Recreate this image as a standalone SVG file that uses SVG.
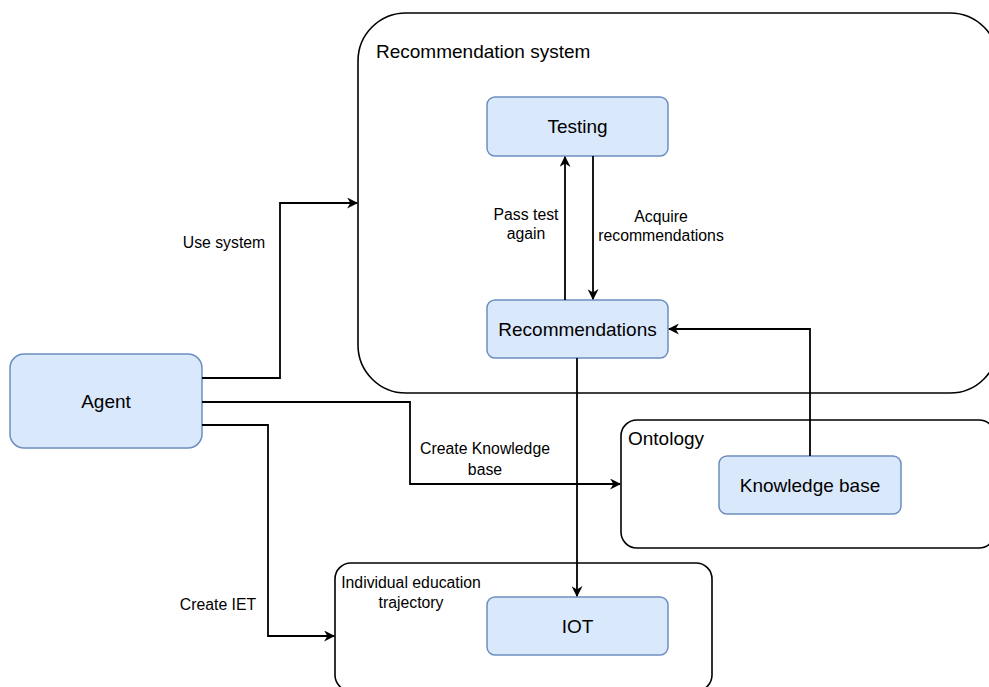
<svg xmlns="http://www.w3.org/2000/svg" width="989" height="687" viewBox="0 0 989 687">
<style>
.node{fill:#dae8fc;stroke:#6c8ebf;stroke-width:1.5}
.cont{fill:none;stroke:#000;stroke-width:1.6}
.lbl{font-family:"Liberation Sans",Arial,sans-serif;font-size:19px;fill:#000}
.small{font-family:"Liberation Sans",Arial,sans-serif;font-size:15.8px;fill:#000}
.edge{fill:none;stroke:#000;stroke-width:1.8}
</style>
<defs>
<marker id="arr" viewBox="0 0 10 10" refX="9" refY="5" markerWidth="11" markerHeight="11" markerUnits="userSpaceOnUse" orient="auto">
<path d="M0,0 L10,5 L0,10 L3,5 z" fill="#000"/>
</marker>
</defs>
<rect width="989" height="687" fill="#fff"/>
<g id="recsys">
<rect class="cont" x="358" y="13" width="640" height="380" rx="48" ry="48"/>
<text class="lbl" x="376" y="58">Recommendation system</text>
</g>
<g id="ontology">
<rect class="cont" x="621" y="420" width="374" height="128" rx="16" ry="16"/>
<text class="lbl" x="628" y="445">Ontology</text>
</g>
<g id="iet">
<rect class="cont" x="335" y="563" width="377" height="128" rx="16" ry="16"/>
<text class="small" x="411" y="588" text-anchor="middle">Individual education</text>
<text class="small" x="411" y="608" text-anchor="middle">trajectory</text>
</g>
<g id="testing">
<rect class="node" x="487" y="97" width="181" height="59" rx="8"/>
<text class="lbl" x="577.5" y="133" text-anchor="middle">Testing</text>
</g>
<g id="recommendations">
<rect class="node" x="487" y="300" width="181" height="58" rx="8"/>
<text class="lbl" x="577.5" y="336" text-anchor="middle">Recommendations</text>
</g>
<g id="agent">
<rect class="node" x="10" y="354" width="192" height="94" rx="14"/>
<text class="lbl" x="106" y="408" text-anchor="middle">Agent</text>
</g>
<g id="knowledge">
<rect class="node" x="719" y="456" width="182" height="58" rx="8"/>
<text class="lbl" x="810" y="492" text-anchor="middle">Knowledge base</text>
</g>
<g id="iot">
<rect class="node" x="487" y="597" width="181" height="58" rx="8"/>
<text class="lbl" x="577.5" y="633" text-anchor="middle">IOT</text>
</g>
<g id="connectors">
<path class="edge" d="M565,300 V157" marker-end="url(#arr)"/>
<path class="edge" d="M593,156 V299" marker-end="url(#arr)"/>
<path class="edge" d="M202,378 H280 V203 H357" marker-end="url(#arr)"/>
<path class="edge" d="M202,402 H410 V484 H620" marker-end="url(#arr)"/>
<path class="edge" d="M202,425 H268 V636 H334" marker-end="url(#arr)"/>
<path class="edge" d="M810,456 V329 H669" marker-end="url(#arr)"/>
<path class="edge" d="M577,358 V596" marker-end="url(#arr)"/>
<text class="small" x="526" y="220" text-anchor="middle">Pass test</text>
<text class="small" x="526" y="239" text-anchor="middle">again</text>
<text class="small" x="661" y="222" text-anchor="middle">Acquire</text>
<text class="small" x="661" y="241" text-anchor="middle">recommendations</text>
<text class="small" x="224" y="248" text-anchor="middle">Use system</text>
<text class="small" x="485" y="454" text-anchor="middle">Create Knowledge</text>
<text class="small" x="485" y="475" text-anchor="middle">base</text>
<text class="small" x="218" y="610" text-anchor="middle">Create IET</text>
</g>
</svg>
